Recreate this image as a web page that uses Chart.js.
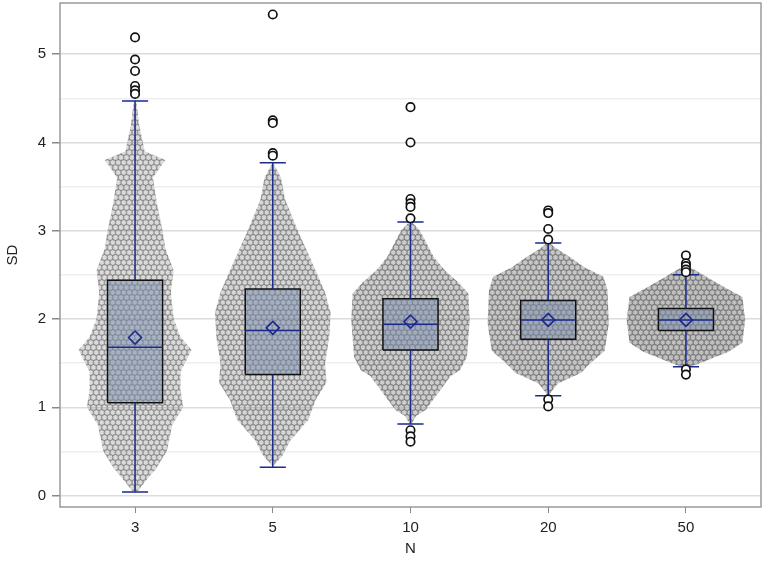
<!DOCTYPE html>
<html>
<head>
<meta charset="utf-8">
<script src="https://cdn.jsdelivr.net/npm/chart.js@4/dist/chart.umd.min.js"></script>
<style>
  html, body { margin: 0; padding: 0; background: #fff; }
  #wrap { width: 765px; height: 568px; }
</style>
</head>
<body>
<div id="wrap"><canvas id="box-chart"></canvas></div>
<script>
// groups (N) and box statistics
var categories = ["3", "5", "10", "20", "50"];
var whiskerLow  = [0.04, 0.32, 0.81, 1.13, 1.46];
var q1          = [1.05, 1.37, 1.65, 1.77, 1.87];
var median      = [1.68, 1.87, 1.94, 1.99, 1.99];
var mean        = [1.79, 1.90, 1.97, 1.99, 1.99];
var q3          = [2.44, 2.34, 2.23, 2.21, 2.12];
var whiskerHigh = [4.47, 3.77, 3.10, 2.86, 2.50];
var outliers = [
  [5.19, 4.94, 4.81, 4.64, 4.59, 4.55],
  [5.45, 4.25, 4.22, 3.88, 3.85],
  [4.40, 4.00, 3.36, 3.31, 3.27, 3.14, 0.74, 0.67, 0.61],
  [3.23, 3.20, 3.02, 2.90, 1.09, 1.01],
  [2.72, 2.63, 2.60, 2.56, 2.53, 1.43, 1.37]
];
// outline of each swarm of points: SD level and half width (in groups)
var swarmLevels = [
  [0.05, 0.15, 0.3, 0.5, 0.8, 1.0, 1.2, 1.4, 1.65, 1.8, 2.0, 2.3, 2.55, 2.8, 3.0, 3.3, 3.6, 3.8, 3.9, 4.2, 4.45],
  [0.35, 0.45, 0.63, 0.86, 1.08, 1.28, 1.5, 1.8, 2.07, 2.3, 2.59, 2.97, 3.35, 3.6, 3.75],
  [0.82, 0.9, 0.97, 1.16, 1.35, 1.42, 1.57, 1.99, 2.29, 2.41, 2.55, 2.7, 2.85, 3.0, 3.1],
  [1.15, 1.27, 1.39, 1.49, 1.64, 1.95, 2.33, 2.48, 2.59, 2.7, 2.8, 2.86],
  [1.46, 1.48, 1.56, 1.63, 1.73, 1.99, 2.25, 2.36, 2.46, 2.56, 2.6]
];
var swarmHalf = [
  [0.02, 0.07, 0.15, 0.23, 0.27, 0.35, 0.33, 0.33, 0.41, 0.33, 0.28, 0.26, 0.28, 0.22, 0.2, 0.16, 0.13, 0.22, 0.07, 0.03, 0.01],
  [0.01, 0.07, 0.13, 0.26, 0.31, 0.39, 0.38, 0.41, 0.42, 0.38, 0.3, 0.19, 0.09, 0.06, 0.01],
  [0.01, 0.04, 0.11, 0.2, 0.29, 0.36, 0.41, 0.43, 0.42, 0.35, 0.25, 0.17, 0.12, 0.07, 0.01],
  [0.01, 0.07, 0.24, 0.3, 0.41, 0.44, 0.43, 0.4, 0.26, 0.16, 0.06, 0.01],
  [0.01, 0.07, 0.2, 0.31, 0.41, 0.43, 0.41, 0.28, 0.17, 0.06, 0.01]
];
var yTickValues = [0, 0.5, 1, 1.5, 2, 2.5, 3, 3.5, 4, 4.5, 5];

var navy = "#1b2a8c";
var boxHalf = 0.2, capHalf = 0.095;
var swarmShade = [0.4, 0.45, 0.55, 0.62, 0.7];

// dotted texture for the swarms
function dotPattern(shade) {
  var c = document.createElement("canvas");
  var w = 11, h = 10;
  c.width = w; c.height = h;
  var g = c.getContext("2d");
  var pts = [[2.75, 2.5], [8.25, 2.5], [0, 7.5], [5.5, 7.5]];
  g.lineWidth = 1;
  pts.forEach(function (p) {
    [-w, 0, w].forEach(function (dx) {
      [-h, 0, h].forEach(function (dy) {
        g.beginPath();
        g.arc(p[0] + dx, p[1] + dy, 3.3, 0, Math.PI * 2);
        g.fillStyle = "rgba(165,165,165," + shade + ")";
        g.fill();
        g.strokeStyle = "rgba(115,115,115," + (shade + 0.1) + ")";
        g.stroke();
      });
    });
  });
  return g.createPattern(c, "repeat");
}

var datasets = [];

categories.forEach(function (c, i) {
  var pts = [];
  swarmLevels[i].forEach(function (y, k) { pts.push({x: i + swarmHalf[i][k], y: y}); });
  for (var k = swarmLevels[i].length - 1; k >= 0; k--) pts.push({x: i - swarmHalf[i][k], y: swarmLevels[i][k]});
  pts.push(pts[0]);
  datasets.push({
    data: pts, showLine: true, fill: "shape", pointRadius: 0, borderWidth: 0,
    borderColor: "rgba(0,0,0,0)", backgroundColor: dotPattern(swarmShade[i]), order: 6
  });
  datasets.push({
    data: [{x: i - boxHalf, y: q1[i]}, {x: i + boxHalf, y: q1[i]}, {x: i + boxHalf, y: q3[i]},
           {x: i - boxHalf, y: q3[i]}, {x: i - boxHalf, y: q1[i]}],
    showLine: true, fill: "shape", pointRadius: 0, borderWidth: 1.5,
    borderColor: "#111", backgroundColor: "rgba(118,138,172,0.5)", order: 4
  });
});

var whisk = [], caps = [], meds = [], outs = [], means = [];
categories.forEach(function (c, i) {
  whisk.push({x: i, y: q3[i]}, {x: i, y: whiskerHigh[i]}, {x: i, y: null},
             {x: i, y: q1[i]}, {x: i, y: whiskerLow[i]}, {x: i, y: null});
  caps.push({x: i - capHalf, y: whiskerHigh[i]}, {x: i + capHalf, y: whiskerHigh[i]}, {x: i, y: null},
            {x: i - capHalf, y: whiskerLow[i]}, {x: i + capHalf, y: whiskerLow[i]}, {x: i, y: null});
  meds.push({x: i - boxHalf, y: median[i]}, {x: i + boxHalf, y: median[i]}, {x: i, y: null});
  means.push({x: i, y: mean[i]});
  outliers[i].forEach(function (v) { outs.push({x: i, y: v}); });
});

datasets.push({data: whisk, showLine: true, pointRadius: 0, borderColor: navy, borderWidth: 1.5, order: 3});
datasets.push({data: caps, showLine: true, pointRadius: 0, borderColor: navy, borderWidth: 1.5, order: 3});
datasets.push({data: meds, showLine: true, pointRadius: 0, borderColor: navy, borderWidth: 1.5, order: 2});
datasets.push({data: means, pointStyle: "rectRot", pointRadius: 6.5, borderWidth: 1.6,
               borderColor: navy, backgroundColor: "rgba(0,0,0,0)", order: 1});
datasets.push({data: outs, pointStyle: "circle", pointRadius: 4.2, borderWidth: 1.7,
               borderColor: "#111", backgroundColor: "#fff", order: 0});

// grey frame round the plot area
var frame = {
  id: "frame",
  afterDraw: function (chart) {
    var a = chart.chartArea, ctx = chart.ctx;
    ctx.save();
    ctx.strokeStyle = "#9a9a9a";
    ctx.lineWidth = 1.5;
    ctx.strokeRect(a.left, a.top, a.right - a.left, a.bottom - a.top);
    ctx.restore();
  }
};

Chart.defaults.font.family = "'Liberation Sans', Arial, sans-serif";
Chart.defaults.color = "#222";

new Chart(document.getElementById("box-chart"), {
  type: "scatter",
  data: { datasets: datasets },
  plugins: [frame],
  options: {
    responsive: true,
    maintainAspectRatio: false,
    animation: false,
    layout: { autoPadding: false, padding: { top: 3, right: 4, left: 0, bottom: 0 } },
    plugins: { legend: { display: false }, tooltip: { enabled: false } },
    scales: {
      x: {
        type: "linear",
        min: -0.545, max: 4.545,
        afterBuildTicks: function (s) { s.ticks = categories.map(function (c, i) { return {value: i}; }); },
        afterFit: function (s) { s.height = 61; s.paddingLeft = 0; s.paddingRight = 0; },
        ticks: { callback: function (v) { return categories[v]; }, font: { size: 15 }, padding: 6, maxRotation: 0 },
        grid: { drawOnChartArea: false, drawTicks: true, tickLength: 6, tickColor: "#888" },
        border: { display: false },
        title: { display: true, text: "N", font: { size: 15 }, padding: { top: 4, bottom: 10 } }
      },
      y: {
        min: -0.13, max: 5.58,
        afterBuildTicks: function (s) { s.ticks = yTickValues.map(function (v) { return {value: v}; }); },
        afterFit: function (s) { s.width = 60; s.paddingTop = 0; s.paddingBottom = 0; },
        ticks: {
          callback: function (v) { return v % 1 === 0 ? String(v) : ""; },
          font: { size: 15 }, padding: 6
        },
        grid: {
          color: function (c) { return c.tick && c.tick.value % 1 === 0 ? "#dcdcdc" : "#eeeeee"; },
          tickColor: function (c) { return c.tick && c.tick.value % 1 === 0 ? "#888" : "rgba(0,0,0,0)"; },
          tickLength: 8, lineWidth: 1.5
        },
        border: { display: false },
        title: { display: true, text: "SD", font: { size: 15 }, padding: { top: 4, bottom: 0 } }
      }
    }
  }
});
</script>
</body>
</html>
